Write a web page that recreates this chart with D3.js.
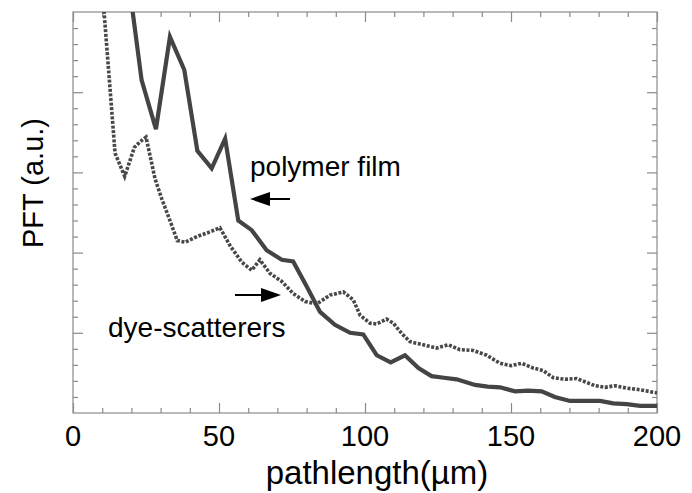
<!DOCTYPE html>
<html>
<head>
<meta charset="utf-8">
<script src="https://cdn.jsdelivr.net/npm/d3@7"></script>
<style>
  body { margin: 0; background: #fff; }
  text { font-family: "Liberation Sans", Arial, sans-serif; fill: #000; }
</style>
</head>
<body>
<div id="chart"></div>
<script>
// data (pathlength in um, PFT in arbitrary units)
var filmX = [19, 23.5, 28.4, 33.2, 38.1, 42.6, 47.5, 52.1, 56.6, 61.2, 66.3, 71.5, 75.4, 80, 84.6, 89.7, 94.9, 99.4, 104, 108.8, 113.7, 118.3, 122.8, 127, 131.4, 137.7, 142, 146.2, 151.4, 155.8, 160.5, 165, 170.2, 175, 180.5, 185, 189.6, 194.2, 200];
var filmY = [5.4, 4.15, 3.54, 4.69, 4.28, 3.27, 3.05, 3.42, 2.40, 2.28, 2.03, 1.91, 1.89, 1.58, 1.26, 1.10, 1.00, 0.98, 0.72, 0.63, 0.72, 0.56, 0.46, 0.44, 0.42, 0.35, 0.33, 0.32, 0.27, 0.28, 0.27, 0.20, 0.15, 0.15, 0.15, 0.12, 0.11, 0.09, 0.09];

var dyeX = [10, 14.4, 17.7, 21, 22.9, 25, 28.1, 30.4, 33.2, 35.7, 38.4, 42.4, 46.3, 50.3, 53.9, 57.8, 61.2, 64, 67.5, 71.5, 75.4, 79.5, 83.5, 88, 92.6, 96, 98.3, 101.7, 104, 107.4, 109.7, 112.6, 115.4, 118.8, 124.5, 128.5, 132.5, 137, 141.7, 146.2, 150, 153.7, 157.6, 161, 164.5, 168.5, 172.5, 175.3, 178.8, 182.2, 185.6, 189.6, 194.2, 200];
var dyeY = [5.3, 3.24, 2.95, 3.31, 3.38, 3.44, 2.92, 2.67, 2.40, 2.15, 2.13, 2.20, 2.25, 2.31, 2.08, 1.88, 1.78, 1.91, 1.74, 1.64, 1.49, 1.39, 1.36, 1.47, 1.51, 1.41, 1.22, 1.12, 1.11, 1.17, 1.12, 0.99, 0.89, 0.86, 0.81, 0.85, 0.79, 0.78, 0.72, 0.62, 0.59, 0.62, 0.56, 0.53, 0.44, 0.42, 0.43, 0.39, 0.34, 0.32, 0.34, 0.31, 0.29, 0.25];

var xMajor = [0, 50, 100, 150, 200];
var xTickLabels = ["0", "50", "100", "150", "200"];

var width = 692, height = 493;
var plotLeft = 73, plotRight = 657, plotTop = 12, plotBottom = 413;

var x = d3.scaleLinear().domain([0, 200]).range([plotLeft, plotRight]);
var y = d3.scaleLinear().domain([0, 5]).range([plotBottom, plotTop]);

var svg = d3.select("#chart").append("svg")
    .attr("width", width)
    .attr("height", height);

svg.append("defs").append("clipPath").attr("id", "plotClip")
    .append("rect")
    .attr("x", plotLeft).attr("y", plotTop)
    .attr("width", plotRight - plotLeft).attr("height", plotBottom - plotTop);

// frame
svg.append("rect")
    .attr("x", plotLeft).attr("y", plotTop)
    .attr("width", plotRight - plotLeft).attr("height", plotBottom - plotTop)
    .attr("fill", "none")
    .attr("stroke", "#8a8a8a")
    .attr("stroke-width", 1.2);

var xMinor = d3.range(0, 201, 10).filter(function (d) { return d % 50 != 0; });
var yMinor = d3.range(0, 5.01, 0.2).filter(function (d) { return Math.abs(d - Math.round(d)) > 0.01; });
var yMajor = [1, 2, 3, 4];

function styleAxis(g) {
    g.select(".domain").remove();
    g.selectAll(".tick line").attr("stroke", "#8a8a8a").attr("stroke-width", 1.2);
}

// inward ticks on all four sides
svg.append("g").attr("transform", "translate(0," + plotBottom + ")")
    .call(d3.axisBottom(x).tickValues(xMinor).tickSize(-5).tickFormat(""))
    .call(styleAxis);
svg.append("g").attr("transform", "translate(0," + plotBottom + ")")
    .call(d3.axisBottom(x).tickValues(xMajor).tickSize(-10).tickFormat(""))
    .call(styleAxis);
svg.append("g").attr("transform", "translate(0," + plotTop + ")")
    .call(d3.axisTop(x).tickValues(xMinor).tickSize(-5).tickFormat(""))
    .call(styleAxis);
svg.append("g").attr("transform", "translate(0," + plotTop + ")")
    .call(d3.axisTop(x).tickValues(xMajor).tickSize(-10).tickFormat(""))
    .call(styleAxis);
svg.append("g").attr("transform", "translate(" + plotLeft + ",0)")
    .call(d3.axisLeft(y).tickValues(yMinor).tickSize(-5).tickFormat(""))
    .call(styleAxis);
svg.append("g").attr("transform", "translate(" + plotLeft + ",0)")
    .call(d3.axisLeft(y).tickValues(yMajor).tickSize(-10).tickFormat(""))
    .call(styleAxis);
svg.append("g").attr("transform", "translate(" + plotRight + ",0)")
    .call(d3.axisRight(y).tickValues(yMinor).tickSize(-5).tickFormat(""))
    .call(styleAxis);
svg.append("g").attr("transform", "translate(" + plotRight + ",0)")
    .call(d3.axisRight(y).tickValues(yMajor).tickSize(-10).tickFormat(""))
    .call(styleAxis);

// tick labels
svg.selectAll(".xlab").data(xMajor).enter().append("text")
    .attr("class", "xlab")
    .attr("x", function (d) { return x(d); })
    .attr("y", 446)
    .attr("text-anchor", "middle")
    .style("font-size", "29px")
    .text(function (d, i) { return xTickLabels[i]; });

// axis titles
svg.append("text")
    .attr("x", 377)
    .attr("y", 484)
    .attr("text-anchor", "middle")
    .style("font-size", "33px")
    .text("pathlength(\u00b5m)");

svg.append("text")
    .attr("transform", "translate(43,183) rotate(-90)")
    .attr("text-anchor", "middle")
    .style("font-size", "29px")
    .text("PFT (a.u.)");

// curves
var line = d3.line()
    .x(function (d) { return x(d[0]); })
    .y(function (d) { return y(d[1]); });

var plot = svg.append("g").attr("clip-path", "url(#plotClip)");

plot.append("path")
    .datum(dyeX.map(function (d, i) { return [d, dyeY[i]]; }))
    .attr("d", line)
    .attr("fill", "none")
    .attr("stroke", "#484848")
    .attr("stroke-width", 3.6)
    .attr("stroke-dasharray", "3,1.6");

plot.append("path")
    .datum(filmX.map(function (d, i) { return [d, filmY[i]]; }))
    .attr("d", line)
    .attr("fill", "none")
    .attr("stroke", "#444")
    .attr("stroke-width", 4.2)
    .attr("stroke-linejoin", "miter");

// annotations
svg.append("text")
    .attr("x", 250).attr("y", 176)
    .style("font-size", "28px")
    .text("polymer film");

svg.append("text")
    .attr("x", 108).attr("y", 337)
    .style("font-size", "28px")
    .text("dye-scatterers");

function arrow(x1, x2, yy) {
    var dir = x2 > x1 ? 1 : -1;
    var headLen = 20, headHalf = 7;
    svg.append("line")
        .attr("x1", x1).attr("y1", yy)
        .attr("x2", x2 - dir * headLen).attr("y2", yy)
        .attr("stroke", "#000").attr("stroke-width", 2);
    svg.append("path")
        .attr("d", "M" + x2 + "," + yy +
            "L" + (x2 - dir * headLen) + "," + (yy - headHalf) +
            "L" + (x2 - dir * headLen) + "," + (yy + headHalf) + "Z")
        .attr("fill", "#000");
}
arrow(290, 250, 199);
arrow(235, 281, 295);
</script>
</body>
</html>
